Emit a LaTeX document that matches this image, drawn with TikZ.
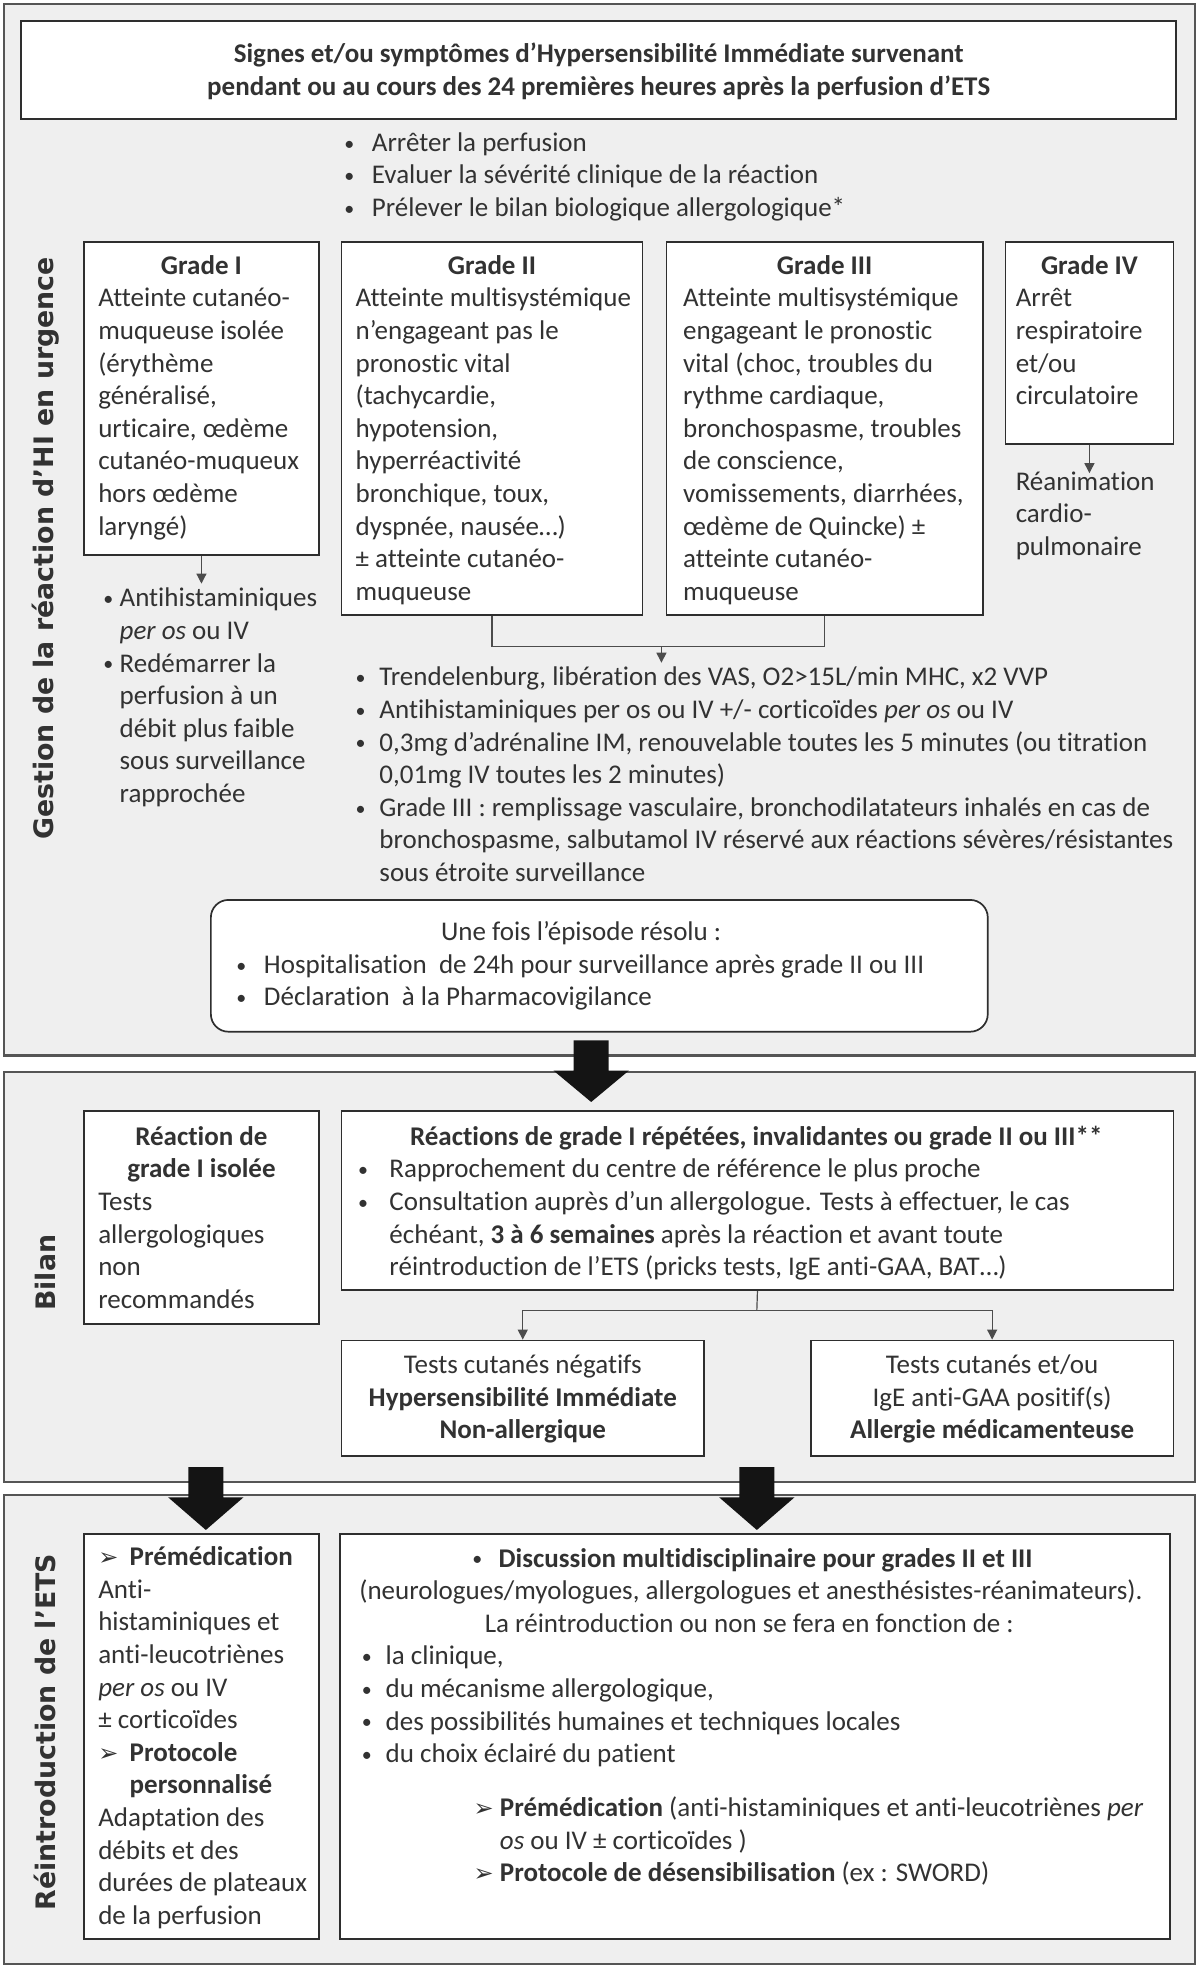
\documentclass[tikz,border=0pt]{standalone}
\usepackage{fontspec}
\setmainfont{Carlito}[Ligatures=NoCommon]
\newfontfamily\djv{DejaVu Sans}
\usetikzlibrary{arrows.meta}
\newlength\uu \setlength\uu{0.6276pt}
\definecolor{panelgray}{RGB}{239,239,239}
\definecolor{bordergray}{RGB}{85,85,85}
\definecolor{txtgray}{RGB}{50,50,50}
\newcommand\myfont{\fontsize{13.5pt}{16.3pt}\selectfont}
\newcommand\bul[1]{\makebox[#1\uu][l]{\raisebox{0.6pt}{\fontsize{10pt}{10pt}\selectfont •}}}
\newcommand\abul[1]{\makebox[#1\uu][l]{\djv\fontsize{12pt}{12pt}\selectfont ➢}}
\newcommand\ind[1]{\hspace*{#1\uu}}
\begin{document}
\begin{tikzpicture}[x=\uu, y=-\uu,
  panel/.style={draw=bordergray, line width=1.2pt, fill=panelgray, inner sep=0pt},
  box/.style={draw=black!82, line width=0.85pt, fill=white, inner sep=0pt},
  txt/.style={anchor=north west, inner sep=0pt, align=left, font=\myfont, text=txtgray},
  ttl/.style={anchor=north, inner sep=0pt, align=center, font=\myfont\bfseries, text=txtgray},
  vlab/.style={rotate=90, inner sep=0pt, font=\djv\fontsize{13.4pt}{16pt}\selectfont\bfseries, text=txtgray},
  conn/.style={draw=black!70, line width=0.6pt},
  arr/.style={conn, -{Triangle[width=5pt,length=5pt]}},
  big/.style={fill=black!92}
]
\useasboundingbox (0,0) rectangle (956,1568);

% ---------- panels ----------
\node[panel, minimum width=949\uu, minimum height=838\uu] (p1) at (477.5,422) {};
\node[panel, minimum width=949\uu, minimum height=327\uu] (p2) at (477.5,1017.5) {};
\node[panel, minimum width=949\uu, minimum height=374\uu] (p3) at (477.5,1378) {};

\node[vlab] (lab1) at (36,437) {Gestion de la réaction d’HI en urgence};
\node[vlab] (lab2) at (36,1014) {Bilan};
\node[vlab] (lab3) at (36,1380) {Réintroduction de l’ETS};

% ---------- panel 1 ----------
\node[box, minimum width=920\uu, minimum height=78\uu] (title) at (477,56) {};
\node[ttl, anchor=center] (titlet) at (477,57) {Signes et/ou symptômes d’Hypersensibilité Immédiate survenant\\pendant ou au cours des 24 premières heures après la perfusion d’ETS};

\node[txt] (l1) at (274,102) {\strut\bul{22}Arrêter la perfusion\\\bul{22}Evaluer la sévérité clinique de la réaction\\\bul{22}Prélever le bilan biologique allergologique*};

\node[box, minimum width=187\uu, minimum height=249\uu] (g1) at (160.5,317.5) {};
\node[box, minimum width=240\uu, minimum height=297\uu] (g2) at (392,341.5) {};
\node[box, minimum width=252\uu, minimum height=297\uu] (g3) at (657,341.5) {};
\node[box, minimum width=134\uu, minimum height=161\uu] (g4) at (868,273.5) {};

\node[ttl] (g1h) at (160.5,200) {\strut Grade I};
\node[ttl] (g2h) at (392,200) {\strut Grade II};
\node[ttl] (g3h) at (657,200) {\strut Grade III};
\node[ttl] (g4h) at (868,200) {\strut Grade IV};

\node[txt] (g1b) at (78,226) {\strut Atteinte cutanéo-\\muqueuse isolée\\(érythème\\généralisé,\\urticaire, œdème\\cutanéo-muqueux\\hors œdème\\laryngé)};
\node[txt] (g2b) at (283,226) {\strut Atteinte multisystémique\\n’engageant pas le\\pronostic vital\\(tachycardie,\\hypotension,\\hyperréactivité\\bronchique, toux,\\dyspnée, nausée…)\\± atteinte cutanéo-\\muqueuse};
\node[txt] (g3b) at (544,226) {\strut Atteinte multisystémique\\engageant le pronostic\\vital (choc, troubles du\\rythme cardiaque,\\bronchospasme, troubles\\de conscience,\\vomissements, diarrhées,\\œdème de Quincke) ±\\atteinte cutanéo-\\muqueuse};
\node[txt] (g4b) at (809,226) {\strut Arrêt\\respiratoire\\et/ou\\circulatoire};

\node[txt] (rea) at (809,372) {\strut Réanimation\\cardio-\\pulmonaire};
\draw[arr] (g4.south) -- (g4.south |- 0,377);

\node[txt] (g1l) at (82,465) {\strut\bul{13}Antihistaminiques\\\ind{13}\textit{per os} ou IV\\\bul{13}Redémarrer la\\\ind{13}perfusion à un\\\ind{13}débit plus faible\\\ind{13}sous surveillance\\\ind{13}rapprochée};
\draw[arr] (g1.south) -- (g1.south |- g1l.north);

\coordinate (j23) at (527,515);
\draw[conn] (g2.south) |- (j23) -| (g3.south);

\node[txt] (l2) at (283,528) {\strut\bul{19}Trendelenburg, libération des VAS, O2>15L/min MHC, x2 VVP\\\bul{19}Antihistaminiques per os ou IV +/- corticoïdes \textit{per os} ou IV\\\bul{19}0,3mg d’adrénaline IM, renouvelable toutes les 5 minutes (ou titration\\\ind{19}0,01mg IV toutes les 2 minutes)\\\bul{19}Grade III : remplissage vasculaire, bronchodilatateurs inhalés en cas de\\\ind{19}bronchospasme, salbutamol IV réservé aux réactions sévères/résistantes\\\ind{19}sous étroite surveillance};
\draw[arr] (j23) -- (j23 |- l2.north);

\node[box, rounded corners=14\uu, minimum width=619\uu, minimum height=105\uu] (resolu) at (477.5,769.5) {};
\node[ttl, font=\myfont] (resolut) at (463,731) {\strut Une fois l’épisode résolu :};
\node[txt] (resolul) at (188,757) {\strut\bul{22}Hospitalisation\ \ de 24h pour surveillance après grade II ou III\\\bul{22}Déclaration\ \ à la Pharmacovigilance};

% ---------- big arrow 1 ----------
\begin{scope}[shift={(471,829)}]
\fill[big] (-14,0) -- (14,0) -- (14,24) -- (30,24) -- (0,49) -- (-30,24) -- (-14,24) -- cycle;
\end{scope}

% ---------- panel 2 ----------
\node[box, minimum width=187\uu, minimum height=170\uu] (b1) at (160.5,970) {};
\node[ttl] (b1h) at (160.5,894) {\strut Réaction de\\grade I isolée};
\node[txt] (b1b) at (78,946) {\strut Tests\\allergologiques\\non\\recommandés};

\node[box, minimum width=663\uu, minimum height=143\uu] (b2) at (603.5,956.5) {};
\node[ttl] (b2h) at (602.5,894) {\strut Réactions de grade I répétées, invalidantes ou grade II ou III**};
\node[txt] (b2b) at (285,920) {\strut\bul{25}Rapprochement du centre de référence le plus proche\\\bul{25}Consultation auprès d’un allergologue. Tests à effectuer, le cas\\\ind{25}échéant, \textbf{3 à 6 semaines} après la réaction et avant toute\\\ind{25}réintroduction de l’ETS (pricks tests, IgE anti-GAA, BAT…)};

\node[box, minimum width=289\uu, minimum height=92\uu] (tn) at (416.5,1114) {};
\node[box, minimum width=289\uu, minimum height=92\uu] (tp) at (790.5,1114) {};
\node[txt, anchor=north, align=center] (tnt) at (416.5,1076) {\strut Tests cutanés négatifs\\\textbf{Hypersensibilité Immédiate}\\\textbf{Non-allergique}};
\node[txt, anchor=north, align=center] (tpt) at (790.5,1076) {\strut Tests cutanés et/ou\\IgE anti-GAA positif(s)\\\textbf{Allergie médicamenteuse}};

\coordinate (jb) at (603,1044);
\draw[conn] (b2.south) -- (jb);
\draw[arr] (jb) -| (tn.north);
\draw[arr] (jb) -| (tp.north);

% ---------- big arrows 2 and 3 ----------
\begin{scope}[shift={(164,1169)}]
\fill[big] (-14,0) -- (14,0) -- (14,24) -- (30,24) -- (0,50) -- (-30,24) -- (-14,24) -- cycle;
\end{scope}
\begin{scope}[shift={(603,1169)}]
\fill[big] (-14,0) -- (14,0) -- (14,24) -- (30,24) -- (0,50) -- (-30,24) -- (-14,24) -- cycle;
\end{scope}

% ---------- panel 3 ----------
\node[box, minimum width=187\uu, minimum height=323\uu] (r1) at (160.5,1383.5) {};
\node[txt] (r1t) at (78,1229) {\strut\abul{25}\textbf{Prémédication}\\Anti-\\histaminiques et\\anti-leucotriènes\\\textit{per os} ou IV\\± corticoïdes\\\abul{25}\textbf{Protocole}\\\ind{25}\textbf{personnalisé}\\Adaptation des\\débits et des\\durées de plateaux\\de la perfusion};

\node[box, minimum width=661\uu, minimum height=323\uu] (r2) at (601.5,1383.5) {};
\node[txt] (r2a) at (376,1230) {\strut\bul{21}\textbf{Discussion multidisciplinaire pour grades II et III}};
\node[txt] (r2b) at (286,1256) {\strut(neurologues/myologues, allergologues et anesthésistes-réanimateurs).};
\node[txt] (r2c) at (386,1282) {\strut La réintroduction ou non se fera en fonction de :};
\node[txt] (r2d) at (288,1308) {\strut\bul{19}la clinique,\\\bul{19}du mécanisme allergologique,\\\bul{19}des possibilités humaines et techniques locales\\\bul{19}du choix éclairé du patient};
\node[txt] (r2e) at (377,1429) {\strut\abul{21}\textbf{Prémédication} (anti-histaminiques et anti-leucotriènes \textit{per}\\\ind{21}\textit{os} ou IV ± corticoïdes )\\\abul{21}\textbf{Protocole de désensibilisation} (ex : SWORD)};
\end{tikzpicture}
\end{document}
